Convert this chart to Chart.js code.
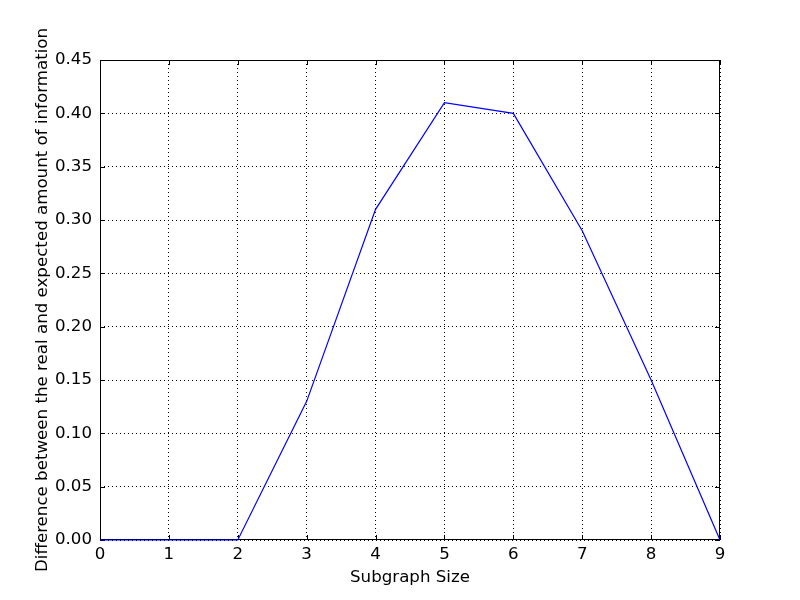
<!DOCTYPE html>
<html>
<head>
<meta charset="utf-8">
<script src="https://cdn.jsdelivr.net/npm/chart.js@4/dist/chart.umd.min.js"></script>
<style>
  html, body { margin: 0; padding: 0; background: #fff; }
  #wrap { width: 800px; height: 600px; }
</style>
</head>
<body>
<div id="wrap"><canvas id="c" width="800" height="600"></canvas></div>
<script>
// Subgraph size vs. difference
const subgraphSizes = [0, 1, 2, 3, 4, 5, 6, 7, 8, 9];
const differences = [0, 0, 0, 0.13, 0.31, 0.41, 0.40, 0.29, 0.15, 0];
const X_TITLE = 'Subgraph Size';
const Y_TITLE = 'Difference between the real and expected amount of information';

const FONT = "'DejaVu Sans', sans-serif";
const FS = 16.67;

// frame + inward ticks like the classic matplotlib look (drawn under the line)
const frameTicks = {
  id: 'frameTicks',
  beforeDatasetsDraw(chart) {
    const { ctx, chartArea: a, scales } = chart;
    ctx.save();
    ctx.strokeStyle = '#000';
    ctx.lineWidth = 1;
    const L = 5;
    ctx.beginPath();
    scales.x.ticks.forEach(t => {
      const px = Math.round(scales.x.getPixelForValue(t.value)) + 0.5;
      ctx.moveTo(px, a.bottom); ctx.lineTo(px, a.bottom - L);
      ctx.moveTo(px, a.top); ctx.lineTo(px, a.top + L);
    });
    scales.y.ticks.forEach(t => {
      const py = Math.round(scales.y.getPixelForValue(t.value)) + 0.5;
      ctx.moveTo(a.left, py); ctx.lineTo(a.left + L, py);
      ctx.moveTo(a.right, py); ctx.lineTo(a.right - L, py);
    });
    ctx.stroke();
    ctx.strokeRect(a.left + 0.5, a.top + 0.5, a.right - a.left - 1, a.bottom - a.top - 1);
    ctx.restore();
  }
};

new Chart(document.getElementById('c'), {
  type: 'line',
  data: {
    datasets: [{
      data: subgraphSizes.map((s, i) => ({ x: s, y: differences[i] })),
      borderColor: '#0000ff',
      borderWidth: 1.2,
      pointRadius: 0,
      tension: 0,
      fill: false,
      clip: 3
    }]
  },
  options: {
    responsive: false,
    animation: false,
    devicePixelRatio: 1,
    layout: { padding: { left: 0, right: 80, top: 60, bottom: 0 } },
    plugins: { legend: { display: false }, tooltip: { enabled: false } },
    scales: {
      x: {
        type: 'linear',
        min: 0, max: 9,
        afterFit: s => { s.height = 60; },
        ticks: { stepSize: 1, color: '#000', padding: 5, font: { family: FONT, size: FS } },
        grid: { color: '#000', drawTicks: false, lineWidth: 1 },
        border: { display: false, dash: [1, 3] },
        title: { display: true, text: X_TITLE, color: '#000', padding: { top: 12, bottom: 12 }, font: { family: FONT, size: FS } }
      },
      y: {
        min: 0, max: 0.45,
        afterFit: s => { s.width = 100; },
        ticks: {
          stepSize: 0.05, color: '#000', padding: 8,
          font: { family: FONT, size: FS },
          callback: v => v.toFixed(2)
        },
        grid: { color: '#000', drawTicks: false, lineWidth: 1 },
        border: { display: false, dash: [1, 3] },
        title: { display: true, text: Y_TITLE, color: '#000', padding: { top: 33, bottom: 0 }, font: { family: FONT, size: FS } }
      }
    }
  },
  plugins: [frameTicks]
});
</script>
</body>
</html>
